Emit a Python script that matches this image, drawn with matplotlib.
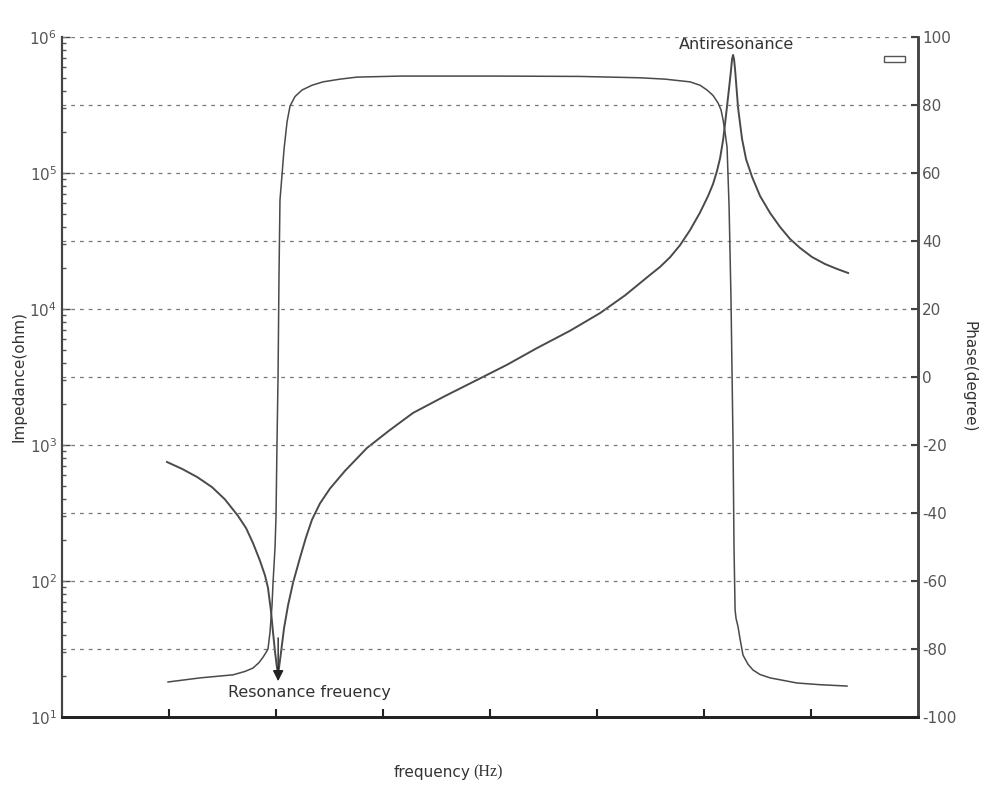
"""
Impedance / phase response of a resonator (re-drawn from a scanned figure)
"""

import matplotlib
matplotlib.use("Agg")
import numpy as np
import matplotlib.pyplot as plt
from matplotlib.patches import Rectangle

# frequency in x-tick units (axis has 8 divisions, ticks unlabeled)
freq_z = [0.981, 1.121, 1.262, 1.402, 1.523, 1.645, 1.720, 1.785, 1.850, 1.897, 1.925,
          1.953, 1.972, 1.991, 2.009, 2.019, 2.028, 2.047, 2.075, 2.112, 2.159, 2.224,
          2.280, 2.336, 2.411, 2.505, 2.645, 2.850, 3.065, 3.280, 3.579, 3.879, 4.159,
          4.439, 4.748, 5.028, 5.262, 5.495, 5.589, 5.682, 5.776, 5.869, 5.963, 6.037,
          6.084, 6.121, 6.150, 6.178, 6.196, 6.215, 6.234, 6.252, 6.262, 6.271, 6.280,
          6.290, 6.318, 6.355, 6.393, 6.449, 6.523, 6.617, 6.710, 6.804, 6.897, 7.009,
          7.131, 7.243, 7.346]
impedance = [750, 668, 582, 490, 398, 301, 245, 190, 141, 110, 89,
             60, 42, 30, 23, 21, 23, 30, 45, 66, 97, 148,
             209, 282, 372, 479, 646, 951, 1290, 1720, 2290, 3010, 3890,
             5160, 6920, 9330, 12600, 17800, 20400, 24000, 29500, 38000, 51300, 67600,
             83000, 103500, 128800, 175000, 229000, 311000, 422000, 571000, 690000, 738000, 690000,
             575000, 301000, 178000, 126000, 93500, 67800, 50800, 40100, 32700, 28100, 24100,
             21400, 19700, 18400]

freq_p = [0.991, 1.290, 1.598, 1.710, 1.785, 1.841, 1.879, 1.907, 1.925, 1.944, 1.963,
          1.972, 1.991, 2.000, 2.009, 2.019, 2.028, 2.037, 2.056, 2.075, 2.103, 2.131,
          2.178, 2.243, 2.336, 2.439, 2.598, 2.757, 3.159, 4.093, 4.841, 5.402, 5.636,
          5.869, 5.963, 6.028, 6.084, 6.131, 6.159, 6.178, 6.196, 6.215, 6.234, 6.252,
          6.271, 6.280, 6.290, 6.299, 6.318, 6.336, 6.364, 6.411, 6.458, 6.523, 6.617,
          6.869, 7.084, 7.336]
phase = [-89.7, -88.5, -87.6, -86.6, -85.6, -84.0, -82.4, -81.0, -80.0, -75.0, -67.0,
         -60.6, -50.0, -40.9, -20.0, 0.0, 30.0, 52.0, 59.4, 67.0, 75.0, 79.7,
         82.5, 84.4, 85.8, 86.8, 87.6, 88.2, 88.5, 88.5, 88.4, 88.0, 87.6,
         86.8, 85.8, 84.4, 82.8, 80.6, 78.5, 75.6, 72.0, 67.6, 50.0, 22.6,
         -20.0, -50.0, -68.5, -71.0, -73.5, -77.0, -81.8, -84.5, -86.2, -87.5, -88.5,
         -90.0, -90.5, -90.9]

phase_ticks = list(range(-100, 101, 20))
x_ticks = [1, 2, 3, 4, 5, 6, 7]

line_col = '#4a4a4a'
text_col = '#333333'

plt.rcParams['font.family'] = ['DejaVu Sans']
plt.rcParams['axes.unicode_minus'] = False

fig = plt.figure(figsize=(9.84, 7.92), dpi=100)
ax = fig.add_axes([0.063, 0.0947, 0.870, 0.8586])
ax2 = ax.twinx()

# impedance (log axis)
ax.plot(freq_z, impedance, color=line_col, lw=1.4)
ax.set_yscale('log')
ax.set_ylim(10, 1e6)
ax.set_xlim(0, 8)
ax.set_xticks(x_ticks)
ax.set_xticklabels([])
ax.tick_params(axis='x', direction='in', length=6, width=1.5, colors='#222')
ax.tick_params(axis='y', which='major', direction='in', length=6, width=1.0,
               labelsize=11, labelcolor='#555', colors='#444')
ax.tick_params(axis='y', which='minor', direction='in', length=3, width=1.0, colors='#555')
ax.set_ylabel('Impedance(ohm)', fontsize=11, color=text_col, labelpad=2)

# phase
ax2.plot(freq_p, phase, color=line_col, lw=1.1)
ax2.set_ylim(-100, 100)
ax2.set_yticks(phase_ticks)
ax2.tick_params(axis='y', direction='in', length=5, width=1.5, labelsize=11,
                labelcolor='#555', colors='#444', pad=3)
ax2.grid(axis='y', color='#777', linestyle=(0, (3, 4)), linewidth=0.9)
ax2.set_ylabel('Phase(degree)', fontsize=11, color=text_col, rotation=270, labelpad=14)

for a in (ax, ax2):
    a.spines['top'].set_visible(False)
    a.spines['left'].set_linewidth(1.5)
    a.spines['right'].set_linewidth(1.8)
    a.spines['bottom'].set_linewidth(2.0)
    a.spines['left'].set_color('#444')
    a.spines['right'].set_color('#444')
    a.spines['bottom'].set_color('#222')

# annotations
ax.annotate('', xy=(2.02, 17.5), xytext=(2.02, 40),
            arrowprops=dict(arrowstyle='-|>', color='#222', lw=1.0, mutation_scale=16))
ax.text(1.55, 15.2, 'Resonance freuency', fontsize=11.5, color=text_col, va='center')
ax.text(6.3, 8.8e5, 'Antiresonance', fontsize=11.5, color=text_col, ha='center', va='center')

# empty legend box
ax.add_patch(Rectangle((0.960, 0.963), 0.0245, 0.0088, transform=ax.transAxes,
                       fill=False, edgecolor='#555', lw=1.0))

fig.text(0.478, 0.025, 'frequency', fontsize=11, color=text_col, ha='right', va='center')
fig.text(0.481, 0.025, '(Hz)', fontsize=11.5, color=text_col, ha='left', va='center',
         family='Liberation Serif')

fig.savefig('out.png', dpi=100, facecolor='white')
